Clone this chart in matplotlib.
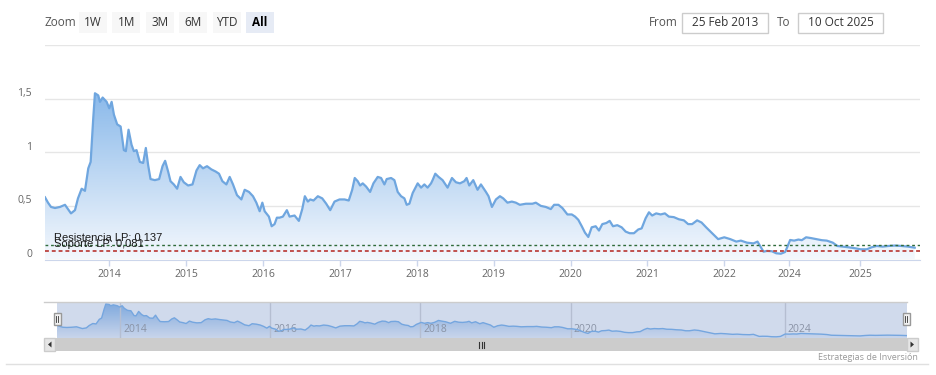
import matplotlib
matplotlib.use("Agg")
import matplotlib.pyplot as plt
import numpy as np
from matplotlib.patches import Rectangle, Polygon
from matplotlib.lines import Line2D
from matplotlib.colors import LinearSegmentedColormap
from matplotlib.transforms import Affine2D, offset_copy

# fechas en años decimales y cotización
anios = [
    2013.162, 2013.201, 2013.240, 2013.292, 2013.357, 2013.422, 2013.461, 2013.500, 2013.552, 2013.591,
    2013.639, 2013.682, 2013.725, 2013.756, 2013.790, 2013.812, 2013.855, 2013.877, 2013.912, 2013.964,
    2013.998, 2014.029, 2014.059, 2014.101, 2014.146, 2014.188, 2014.214, 2014.249, 2014.288, 2014.318,
    2014.353, 2014.396, 2014.439, 2014.474, 2014.504, 2014.535, 2014.591, 2014.647, 2014.691, 2014.725,
    2014.764, 2014.795, 2014.838, 2014.881, 2014.925, 2014.968, 2015.024, 2015.081, 2015.133, 2015.175,
    2015.218, 2015.270, 2015.327, 2015.383, 2015.426, 2015.470, 2015.522, 2015.565, 2015.608, 2015.660,
    2015.717, 2015.760, 2015.816, 2015.868, 2015.912, 2015.955, 2015.990, 2016.020, 2016.075, 2016.111,
    2016.149, 2016.179, 2016.214, 2016.257, 2016.309, 2016.344, 2016.409, 2016.465, 2016.509, 2016.543,
    2016.582, 2016.613, 2016.656, 2016.712, 2016.769, 2016.821, 2016.873, 2016.929, 2016.994, 2017.059,
    2017.114, 2017.159, 2017.192, 2017.231, 2017.262, 2017.296, 2017.340, 2017.392, 2017.435, 2017.491,
    2017.535, 2017.578, 2017.608, 2017.665, 2017.708, 2017.751, 2017.795, 2017.838, 2017.868, 2017.903,
    2017.946, 2018.011, 2018.055, 2018.098, 2018.140, 2018.185, 2018.205, 2018.240, 2018.283, 2018.335,
    2018.400, 2018.457, 2018.509, 2018.561, 2018.617, 2018.647, 2018.682, 2018.734, 2018.790, 2018.834,
    2018.899, 2018.933, 2018.977, 2019.029, 2019.081, 2019.124, 2019.179, 2019.236, 2019.288, 2019.340,
    2019.418, 2019.504, 2019.548, 2019.613, 2019.678, 2019.743, 2019.786, 2019.842, 2019.894, 2019.959,
    2020.016, 2020.059, 2020.101, 2020.146, 2020.188, 2020.231, 2020.275, 2020.327, 2020.370, 2020.413,
    2020.465, 2020.509, 2020.552, 2020.608, 2020.665, 2020.717, 2020.769, 2020.825, 2020.881, 2020.925,
    2020.977, 2021.020, 2021.062, 2021.114, 2021.172, 2021.227, 2021.279, 2021.344, 2021.409, 2021.474,
    2021.530, 2021.582, 2021.647, 2021.704, 2021.764, 2021.842, 2021.920, 2022.000, 2022.184, 2022.368,
    2022.511, 2022.695, 2022.897, 2023.020, 2023.124, 2023.204, 2023.308, 2023.461, 2023.593, 2023.737,
    2023.868, 2023.939, 2024.010, 2024.066, 2024.127, 2024.175, 2024.236, 2024.303, 2024.378, 2024.458,
    2024.529, 2024.614, 2024.679, 2024.755, 2024.835, 2024.929, 2025.010, 2025.095, 2025.165, 2025.236,
    2025.321, 2025.400, 2025.495, 2025.590, 2025.683, 2025.775,
]
precio = [
    0.58, 0.53, 0.49, 0.48, 0.49, 0.51, 0.47, 0.43, 0.46, 0.57,
    0.66, 0.64, 0.85, 0.91, 1.32, 1.55, 1.53, 1.47, 1.51, 1.47,
    1.41, 1.47, 1.35, 1.26, 1.24, 1.02, 1.01, 1.21, 1.07, 1.01,
    1.02, 0.91, 0.90, 1.04, 0.88, 0.75, 0.74, 0.75, 0.87, 0.92,
    0.82, 0.73, 0.70, 0.66, 0.77, 0.72, 0.69, 0.70, 0.83, 0.88,
    0.85, 0.87, 0.84, 0.82, 0.80, 0.73, 0.70, 0.77, 0.70, 0.60,
    0.56, 0.65, 0.63, 0.59, 0.53, 0.45, 0.53, 0.45, 0.40, 0.31,
    0.33, 0.39, 0.39, 0.40, 0.46, 0.40, 0.41, 0.36, 0.47, 0.59,
    0.54, 0.56, 0.55, 0.59, 0.57, 0.52, 0.46, 0.54, 0.56, 0.56,
    0.55, 0.65, 0.76, 0.73, 0.69, 0.71, 0.68, 0.63, 0.71, 0.77,
    0.76, 0.70, 0.75, 0.76, 0.74, 0.63, 0.59, 0.57, 0.51, 0.52,
    0.62, 0.71, 0.67, 0.70, 0.67, 0.71, 0.74, 0.80, 0.77, 0.74,
    0.67, 0.76, 0.72, 0.71, 0.73, 0.76, 0.69, 0.74, 0.65, 0.70,
    0.63, 0.59, 0.49, 0.56, 0.59, 0.57, 0.53, 0.54, 0.53, 0.51,
    0.52, 0.52, 0.53, 0.50, 0.49, 0.47, 0.51, 0.51, 0.48, 0.42,
    0.42, 0.40, 0.37, 0.31, 0.25, 0.21, 0.30, 0.31, 0.27, 0.33,
    0.34, 0.36, 0.31, 0.32, 0.30, 0.26, 0.245, 0.245, 0.28, 0.29,
    0.385, 0.44, 0.41, 0.43, 0.42, 0.43, 0.40, 0.395, 0.375, 0.365,
    0.33, 0.33, 0.365, 0.345, 0.30, 0.245, 0.19, 0.207, 0.19, 0.167,
    0.176, 0.157, 0.15, 0.167, 0.114, 0.073, 0.08, 0.077, 0.058, 0.054,
    0.07, 0.12, 0.182, 0.176, 0.186, 0.18, 0.207, 0.20, 0.19, 0.18,
    0.176, 0.157, 0.126, 0.12, 0.114, 0.105, 0.095, 0.095, 0.114, 0.126,
    0.12, 0.126, 0.13, 0.126, 0.12, 0.11,
]

ticks_anio = [2014, 2015, 2016, 2017, 2018, 2019, 2020, 2021, 2022, 2024, 2025]
ticks_nav = [2014, 2016, 2018, 2020, 2024]
ticks_y = [0, 0.5, 1, 1.5, 2]
etiquetas_y = ['0', '0,5', '1', '1,5', '']
resistencia = 0.137
soporte = 0.081
botones = ['1W', '1M', '3M', '6M', 'YTD', 'All']
desde = '25 Feb 2013'
hasta = '10 Oct 2025'

plt.rcParams['font.family'] = ['Open Sans', 'DejaVu Sans']

# eje ordinal: el tramo 2022-2024 sale comprimido en el original
ancla_anio = [2000, 2022, 2024, 2040]
ancla_pos = [-13, 9, 9 + 65.3 / 77, 9 + 65.3 / 77 + 16 * 70.7 / 77]


def adelante(x):
    return np.interp(x, ancla_anio, ancla_pos)


def atras(p):
    return np.interp(p, ancla_pos, ancla_anio)


W, H = 937, 375
fig = plt.figure(figsize=(W / 100, H / 100), dpi=100)
px = Affine2D().scale(1 / W, -1 / H).translate(0, 1) + fig.transFigure


def caja(x0, y0, x1, y1):
    return [x0 / W, 1 - y1 / H, (x1 - x0) / W, (y1 - y0) / H]


x = np.array(anios)
y = np.array(precio)
degradado = LinearSegmentedColormap.from_list('deg', ['#f4f8fd', '#8ab9ea'])


def area(ax, ymax, lw, color):
    verts = [(x[0], 0)] + list(zip(x, y)) + [(x[-1], 0)]
    poly = Polygon(verts, closed=True, fc='none', ec='none')
    ax.add_patch(poly)
    grad = np.linspace(1, 0, 256).reshape(-1, 1)
    im = ax.imshow(grad, cmap=degradado, aspect='auto', transform=ax.transAxes,
                   extent=[0, 1, 0, y.max() / ymax], zorder=1, interpolation='bilinear')
    im.set_clip_path(poly)
    ax.plot(x, y, color=color, lw=lw, zorder=3, solid_joinstyle='round')


# ---- gráfico principal ----
ax = fig.add_axes(caja(45, 45, 920, 259.5))
ax.set_xscale('function', functions=(adelante, atras))
area(ax, 2, 1.6, '#6fa6df')
ax.set_xlim(anios[0], 2025.85)
ax.set_ylim(0, 2)

ax.set_yticks(ticks_y)
ax.set_yticklabels([])
ax.yaxis.grid(True, color='#e6e6e6', lw=1)
ax.tick_params(axis='y', length=0)
ax.set_axisbelow(True)
lab_t = offset_copy(ax.get_yaxis_transform(), fig=fig, x=-13, y=5, units='dots')
for v, s in zip(ticks_y, etiquetas_y):
    ax.text(0, v, s, transform=lab_t, ha='right', va='center', fontsize=7.5, color='#666666')

ax.set_xticks(ticks_anio)
ax.set_xticklabels([str(t) for t in ticks_anio])
ax.xaxis.set_minor_locator(matplotlib.ticker.NullLocator())
ax.tick_params(axis='x', length=4.5, width=1, color='#ccd6eb', pad=2,
               labelsize=7.5, labelcolor='#666666')
for s in ['top', 'left', 'right']:
    ax.spines[s].set_visible(False)
ax.spines['bottom'].set_color('#ccd6eb')

ax.axhline(resistencia, color='#2f6b3a', lw=1, dashes=(2, 2), zorder=4)
ax.axhline(soporte, color='#c0504d', lw=1.4, dashes=(2, 1.5), zorder=4)
txt_t = offset_copy(ax.get_yaxis_transform(), fig=fig, x=9, y=4, units='dots')
ax.text(0, resistencia, 'Resistencia LP: 0,137', transform=txt_t, fontsize=8,
        family='Liberation Sans', color='#1a1a1a', va='baseline', zorder=5)
ax.text(0, soporte, 'Soporte LP: 0,081', transform=txt_t, fontsize=8,
        family='Liberation Sans', color='#1a1a1a', va='baseline', zorder=5)

# ---- barra superior ----
fig.text(45, 22, 'Zoom', transform=px, fontsize=8.5, color='#555555', va='center')
for i, b in enumerate(botones):
    bx = 79 + i * 33.4
    activo = b == 'All'
    fig.add_artist(Rectangle((bx, 12), 28, 21, transform=px,
                             fc='#e6ebf5' if activo else '#f7f7f7', ec='none'))
    fig.text(bx + 14, 22.5, b, transform=px, ha='center', va='center', fontsize=8.5,
             color='#000000' if activo else '#333333',
             fontweight='bold' if activo else 'normal')

fig.text(649, 22, 'From', transform=px, fontsize=8.5, color='#555555', va='center')
fig.add_artist(Rectangle((682, 12.5), 86, 20, transform=px, fc='white', ec='#cccccc', lw=1))
fig.text(725, 22.5, desde, transform=px, fontsize=8.5, color='#333333', ha='center', va='center')
fig.text(777, 22, 'To', transform=px, fontsize=8.5, color='#555555', va='center')
fig.add_artist(Rectangle((798, 12.5), 85, 20, transform=px, fc='white', ec='#cccccc', lw=1))
fig.text(840.5, 22.5, hasta, transform=px, fontsize=8.5, color='#333333', ha='center', va='center')

# ---- navegador ----
nav = fig.add_axes(caja(57, 302, 907, 338))
nav.set_xscale('function', functions=(adelante, atras))
area(nav, 1.64, 1, '#7cb5ec')
nav.set_xlim(anios[0], anios[-1])
nav.set_ylim(0, 1.64)
nav.set_xticks([])
nav.set_yticks([])
for s in nav.spines.values():
    s.set_visible(False)
for t in ticks_nav:
    nav.axvline(t, color='#d8d8d8', lw=1, zorder=2)
nav_t = offset_copy(nav.get_xaxis_transform(), fig=fig, x=3, y=8, units='dots')
for t in ticks_nav:
    nav.text(t, 0, str(t), transform=nav_t, ha='left', va='center', fontsize=7.5,
             color='#999999', zorder=2)
nav.add_patch(Rectangle((0, 0), 1, 1, transform=nav.transAxes,
                        fc=(102 / 255, 133 / 255, 194 / 255, 0.3), ec='none', zorder=6))

fig.add_artist(Line2D([44, 907], [302, 302], transform=px, color='#cccccc', lw=1))
for hx in [54, 903]:
    fig.add_artist(Rectangle((hx, 313), 7, 12, transform=px, fc='#f2f2f2', ec='#999999', lw=1))
    for lx in [hx + 2.5, hx + 4.5]:
        fig.add_artist(Line2D([lx, lx], [316, 322], transform=px, color='#333333', lw=0.6))

# barra de desplazamiento
fig.add_artist(Rectangle((55, 338), 852, 13, transform=px, fc='#cccccc', ec='none'))
for bx in [44, 907]:
    fig.add_artist(Rectangle((bx, 338), 11, 13, transform=px, fc='#e6e6e6', ec='#cccccc', lw=1))
fig.add_artist(Polygon([(48, 344.5), (51.5, 341.5), (51.5, 347.5)], transform=px, fc='#333333', ec='none'))
fig.add_artist(Polygon([(914, 344.5), (910.5, 341.5), (910.5, 347.5)], transform=px, fc='#333333', ec='none'))
for lx in [479.5, 482, 484.5]:
    fig.add_artist(Line2D([lx, lx], [341.5, 347.5], transform=px, color='#333333', lw=0.8))

fig.text(918, 357, 'Estrategias de Inversión', transform=px, fontsize=6.5, color='#999999',
         ha='right', va='center')
fig.add_artist(Line2D([6, 928], [364, 364], transform=px, color='#e0e0e0', lw=1))

fig.savefig('out.png', dpi=100)
